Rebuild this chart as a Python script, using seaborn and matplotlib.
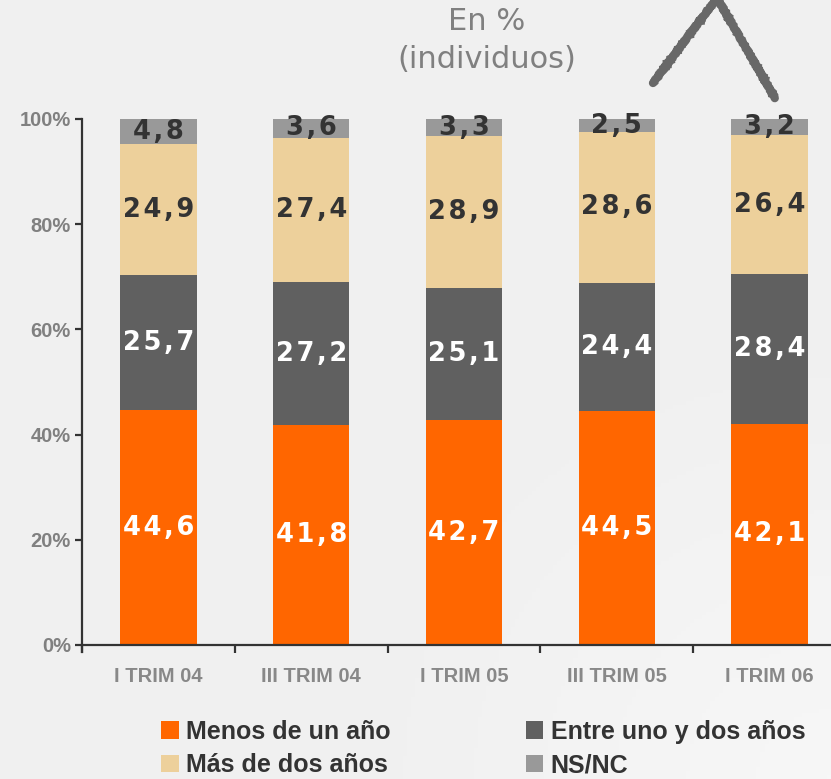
import numpy as np
import pandas as pd
import matplotlib
matplotlib.use("Agg")
import matplotlib.pyplot as plt
from matplotlib.patches import Patch
from matplotlib.lines import Line2D
import seaborn as sns

# Quarterly survey: how long individuals have been in the situation (%)
periods = ["I TRIM 04", "III TRIM 04", "I TRIM 05", "III TRIM 05", "I TRIM 06"]
menos_de_un_ano = [44.6, 41.8, 42.7, 44.5, 42.1]
entre_uno_y_dos = [25.7, 27.2, 25.1, 24.4, 28.4]
mas_de_dos_anos = [24.9, 27.4, 28.9, 28.6, 26.4]
ns_nc = [4.8, 3.6, 3.3, 2.5, 3.2]

series_names = ["Menos de un año", "Entre uno y dos años", "Más de dos años", "NS/NC"]
series_values = [menos_de_un_ano, entre_uno_y_dos, mas_de_dos_anos, ns_nc]
series_colors = ["#FF6600", "#606060", "#EDD09B", "#999999"]
label_colors = ["white", "white", "#333333", "#333333"]
y_ticks = [0, 20, 40, 60, 80, 100]

sns.set_theme(style="white")
plt.rcParams["font.family"] = ["Liberation Sans", "DejaVu Sans"]

W, H = 831, 779
fig = plt.figure(figsize=(W / 100, H / 100), dpi=100)
fig.patch.set_facecolor("#F0F0F0")

# soft light wash toward the lower right corner
bg = fig.add_axes([0, 0, 1, 1], zorder=-10)
gx, gy = np.meshgrid(np.linspace(0, 1, 200), np.linspace(0, 1, 200))
wash = np.clip(1 - np.hypot(1 - gx, gy) / 0.6, 0, 1)
bg.imshow(wash, cmap=matplotlib.colors.LinearSegmentedColormap.from_list(
    "wash", ["#F0F0F0", "#F7F7F7"]), extent=[0, 1, 0, 1], origin="lower",
    aspect="auto")
bg.set_axis_off()

ax = fig.add_axes([82 / W, 1 - 645 / H, (846 - 82) / W, (645 - 119) / H])
ax.set_facecolor("none")

df = pd.DataFrame({"periodo": periods})
for name, vals in zip(series_names, series_values):
    df[name] = vals

cum = df[series_names].cumsum(axis=1)
bottoms = cum.shift(1, axis=1).fillna(0)

# draw cumulative totals from the top layer down so each layer covers the rest
for name, color in reversed(list(zip(series_names, series_colors))):
    sns.barplot(data=cum.assign(periodo=periods), x="periodo", y=name,
                color=color, saturation=1, width=0.5, ax=ax, linewidth=0,
                order=periods)

HAIR = "\u200a"
for name, tcolor in zip(series_names, label_colors):
    for i, v in enumerate(df[name]):
        yc = bottoms[name].iloc[i] + v / 2
        txt = HAIR.join(f"{v:.1f}".replace(".", ","))
        ax.text(i, yc, txt, ha="center", va="center",
                color=tcolor, fontsize=18.5, fontweight="bold",
                family="DejaVu Sans")

ax.set_xlim(-0.5, 4.5)
ax.set_ylim(0, 100)
ax.set_xlabel("")
ax.set_ylabel("")
ax.set_yticks(y_ticks)
ax.set_yticklabels([f"{t}%" for t in y_ticks])
ax.set_xticks(range(len(periods)))
ax.set_xticklabels(periods)
ax.set_xticks(np.arange(-0.5, 4.6, 1), minor=True)

for s in ["top", "right"]:
    ax.spines[s].set_visible(False)
for s in ["left", "bottom"]:
    ax.spines[s].set_color("#333333")
    ax.spines[s].set_linewidth(1.6)
ax.spines["left"].set_bounds(-1.3, 100)
ax.spines["left"].set_zorder(5)
ax.spines["bottom"].set_zorder(5)

ax.tick_params(axis="y", which="major", direction="out", length=5, width=1.6,
               color="#333333", labelsize=14.5, labelcolor="#808080", pad=3,
               left=True)
ax.tick_params(axis="x", which="major", length=0, labelsize=14.5,
               labelcolor="#888888", pad=16)
ax.tick_params(axis="x", which="minor", direction="out", length=6, width=1.6,
               color="#333333", bottom=True)
for lab in ax.get_yticklabels() + ax.get_xticklabels():
    lab.set_fontweight("bold")

# header
fig.text(487 / W, 1 - 22 / H, "En %", ha="center", va="center",
         fontsize=22, color="#808080", family="DejaVu Sans")
fig.text(487 / W, 1 - 60 / H, "(individuos)", ha="center", va="center",
         fontsize=22, color="#808080", family="DejaVu Sans")

# hand-drawn chevron
px = np.array([653, 717, 775])
py = np.array([83, -2, 98])
chev = Line2D(px / W, 1 - py / H, transform=fig.transFigure, color="#686868",
              linewidth=6, solid_capstyle="round", solid_joinstyle="miter")
chev.set_sketch_params(scale=0.5, length=5, randomness=3)
fig.add_artist(chev)

handles = [Patch(facecolor=c, edgecolor="none") for c in series_colors]
order = [0, 2, 1, 3]
leg = fig.legend([handles[i] for i in order], [series_names[i] for i in order],
                 ncol=2, loc="center left", bbox_to_anchor=(161 / W, 1 - 748.5 / H),
                 frameon=False, handlelength=0.7, handleheight=0.7,
                 handletextpad=0.3, columnspacing=5.4, labelspacing=0.38,
                 borderpad=0, borderaxespad=0,
                 prop={"size": 18, "weight": "bold"})
for t in leg.get_texts():
    t.set_color("#333333")

fig.savefig("out.png", dpi=100, facecolor=fig.get_facecolor())
